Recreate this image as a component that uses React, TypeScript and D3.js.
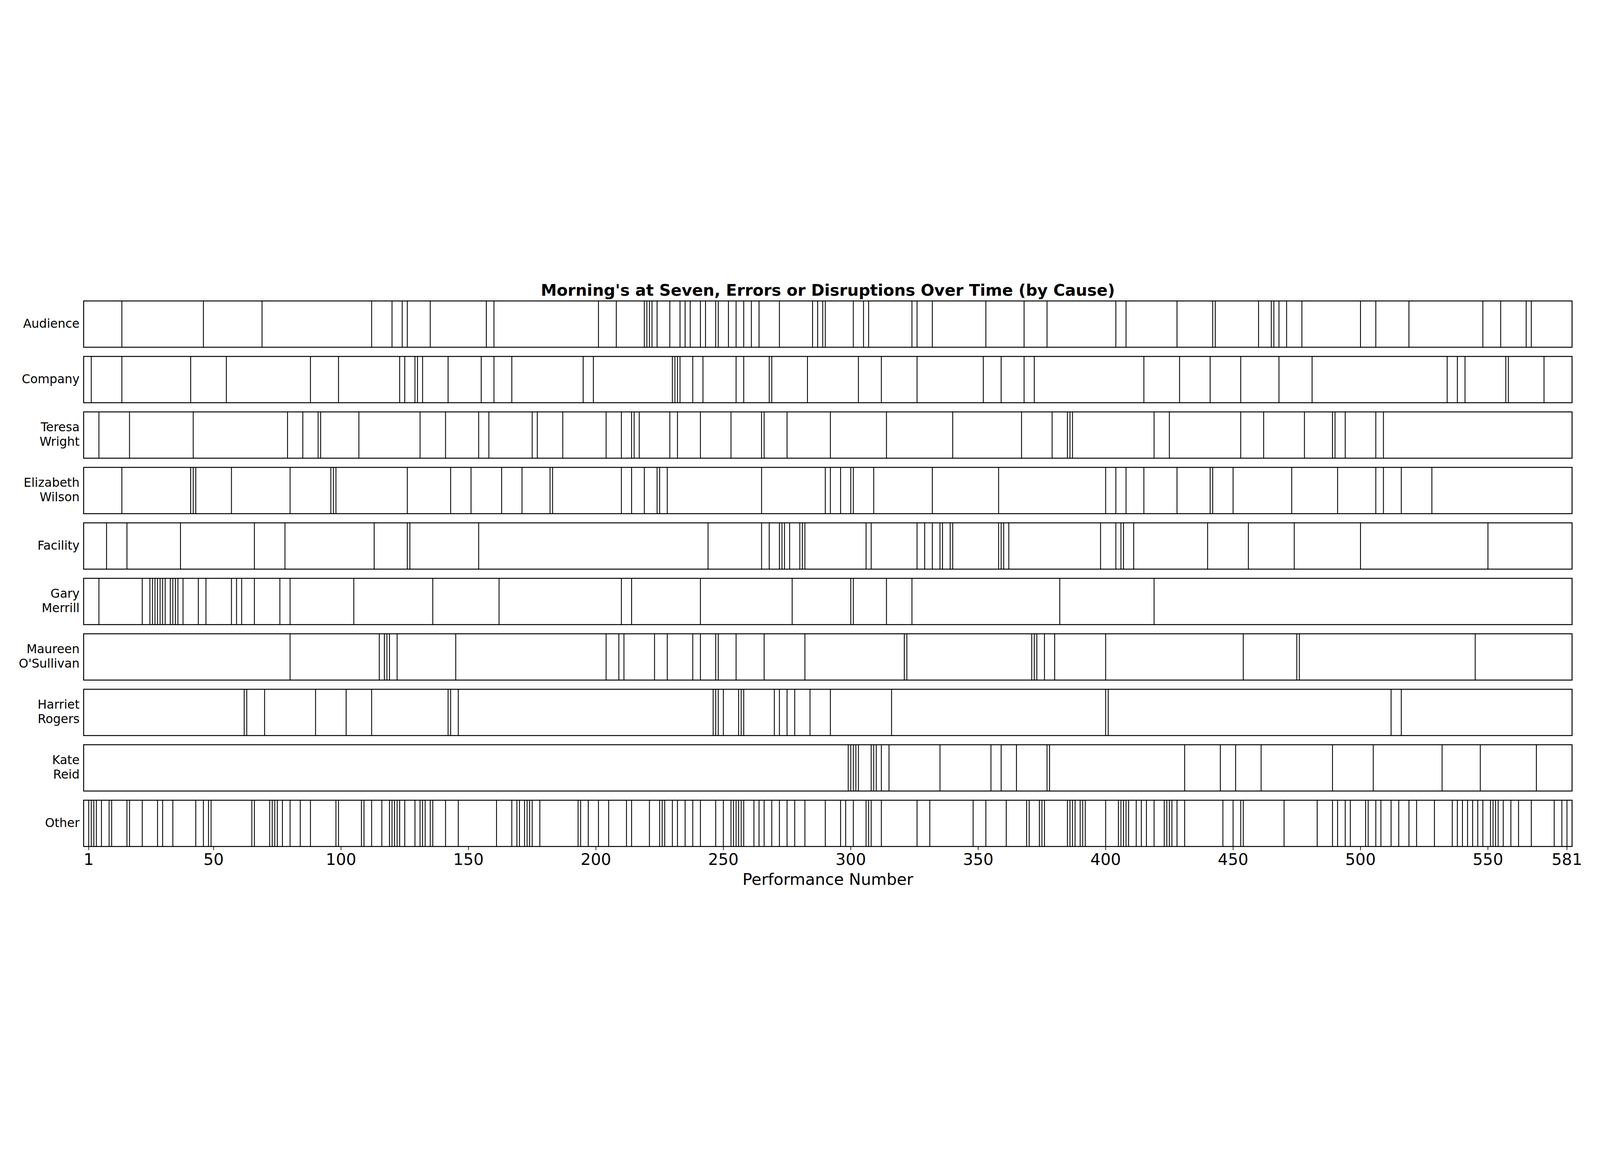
import * as d3 from "d3";

// Rows, top to bottom
const causes = [
  "Audience",
  "Company",
  "Teresa\nWright",
  "Elizabeth\nWilson",
  "Facility",
  "Gary\nMerrill",
  "Maureen\nO'Sullivan",
  "Harriet\nRogers",
  "Kate\nReid",
  "Other",
];

// Performance numbers with an error or disruption, per cause
const audience = [
  14, 46, 69, 112, 120, 124, 126, 135, 157, 160, 201, 208, 219, 220, 221, 222,
  224, 229, 233, 235, 237, 241, 243, 247, 248, 252, 255, 258, 261, 264, 272,
  285, 287, 289, 290, 301, 305, 307, 324, 326, 332, 353, 368, 377, 404, 408,
  428, 442, 443, 460, 465, 466, 468, 471, 477, 500, 506, 519, 548, 555, 565,
  567,
];
const company = [
  2, 14, 41, 55, 88, 99, 123, 125, 129, 130, 132, 142, 155, 160, 167, 195, 199,
  230, 231, 232, 233, 238, 242, 255, 258, 268, 269, 283, 303, 312, 326, 352,
  359, 368, 372, 415, 429, 441, 453, 468, 481, 534, 538, 541, 557, 558, 572,
];
const teresaWright = [
  5, 17, 42, 79, 85, 91, 92, 107, 131, 141, 154, 158, 175, 177, 187, 204, 210,
  214, 215, 217, 229, 232, 241, 253, 265, 266, 275, 292, 314, 340, 367, 379,
  385, 386, 387, 419, 425, 453, 462, 478, 489, 490, 494, 506, 509,
];
const elizabethWilson = [
  14, 41, 42, 43, 57, 80, 96, 97, 98, 126, 143, 151, 163, 171, 182, 183, 210,
  214, 219, 224, 225, 228, 265, 290, 292, 296, 300, 301, 309, 332, 358, 400,
  404, 408, 415, 428, 441, 442, 450, 473, 491, 506, 509, 516, 528,
];
const facility = [
  8, 16, 37, 66, 78, 113, 126, 127, 154, 244, 265, 268, 272, 273, 274, 276, 280,
  281, 282, 306, 308, 326, 329, 332, 335, 336, 339, 340, 358, 359, 360, 362,
  398, 404, 406, 407, 411, 440, 456, 474, 500, 550,
];
const garyMerrill = [
  5, 22, 25, 26, 27, 28, 29, 30, 31, 33, 34, 35, 36, 38, 44, 47, 57, 59, 61, 66,
  76, 80, 105, 136, 162, 210, 214, 241, 277, 300, 301, 314, 324, 382, 419,
];
const maureenOSullivan = [
  80, 115, 117, 118, 119, 122, 145, 204, 209, 211, 223, 228, 238, 241, 247, 248,
  255, 266, 282, 321, 322, 371, 372, 373, 376, 380, 400, 454, 475, 476, 545,
];
const harrietRogers = [
  62, 63, 70, 90, 102, 112, 142, 143, 146, 246, 247, 248, 250, 256, 257, 258,
  270, 272, 275, 278, 284, 292, 316, 400, 401, 512, 516,
];
const kateReid = [
  299, 300, 301, 302, 303, 308, 309, 310, 312, 315, 335, 355, 359, 365, 377,
  378, 431, 445, 451, 461, 489, 505, 532, 547, 569,
];
const other = [
  1, 2, 3, 4, 6, 9, 10, 16, 17, 22, 28, 30, 34, 43, 46, 48, 49, 65, 66, 72, 73,
  74, 75, 77, 80, 84, 88, 98, 99, 108, 109, 112, 116, 119, 120, 121, 122, 123,
  125, 129, 131, 132, 133, 135, 136, 141, 146, 161, 167, 169, 170, 172, 173,
  174, 175, 178, 193, 194, 197, 201, 205, 212, 214, 221, 225, 226, 227, 230,
  232, 235, 238, 241, 247, 250, 253, 254, 255, 256, 257, 258, 262, 264, 266,
  269, 272, 275, 278, 282, 290, 296, 298, 301, 306, 307, 308, 312, 326, 331,
  348, 353, 361, 369, 370, 374, 375, 376, 385, 386, 387, 388, 390, 391, 392,
  400, 405, 406, 407, 408, 409, 412, 414, 416, 419, 423, 424, 425, 426, 428,
  431, 446, 450, 453, 454, 470, 483, 489, 491, 494, 496, 502, 503, 506, 508,
  512, 515, 519, 522, 529, 536, 538, 540, 542, 544, 546, 548, 551, 552, 553,
  554, 556, 559, 562, 567, 576, 579, 581,
];

const eventsByCause = [
  audience,
  company,
  teresaWright,
  elizabethWilson,
  facility,
  garyMerrill,
  maureenOSullivan,
  harrietRogers,
  kateReid,
  other,
];

const xTicks = [1, 50, 100, 150, 200, 250, 300, 350, 400, 450, 500, 550, 581];
const xDomain = [-1, 583];

const title = "Morning's at Seven, Errors or Disruptions Over Time (by Cause)";
const xLabel = "Performance Number";

export default function App() {
  // Coordinate space layout definitions (drawn in a 7500x3000 viewBox,
  // fitted to whatever the viewport really is)
  const svgWidth = 7500;
  const svgHeight = 3000;
  const plot = { left: 392, right: 7369, top: 164, bottom: 2721 };
  const font = "'DejaVu Sans', sans-serif";

  // Scales
  const xScale = d3
    .scaleLinear()
    .domain(xDomain)
    .range([plot.left, plot.right]);

  const yScale = d3
    .scaleBand<string>()
    .domain(causes)
    .range([plot.top, plot.bottom])
    .paddingInner(43 / 260)
    .paddingOuter(0);

  const bw = yScale.bandwidth();
  const lastTop = yScale(causes[causes.length - 1]) || 0;

  return (
    <svg
      viewBox={`0 0 ${svgWidth} ${svgHeight}`}
      preserveAspectRatio="xMidYMid meet"
      style={{
        position: "fixed",
        left: 0,
        top: 0,
        width: "100vw",
        height: "100vh",
        display: "block",
        background: "#fff",
      }}
      fontFamily={font}
    >
      <rect x={0} y={0} width={svgWidth} height={svgHeight} fill="#fff" />

      <text
        x={(plot.left + plot.right) / 2}
        y={139}
        textAnchor="middle"
        fontSize={75}
        fontWeight="bold"
        fill="#000"
      >
        {title}
      </text>

      {causes.map((cause, i) => {
        const top = yScale(cause) || 0;
        const mid = top + bw / 2;
        const lines = cause.split("\n");
        const lineGap = 68;
        const firstBase = mid + 17 - ((lines.length - 1) * lineGap) / 2;
        return (
          <g key={cause}>
            {/* event markers */}
            {eventsByCause[i].map((p, j) => (
              <line
                key={j}
                x1={xScale(p)}
                x2={xScale(p)}
                y1={top}
                y2={top + bw}
                stroke="#000"
                strokeWidth={4}
              />
            ))}
            {/* panel frame */}
            <rect
              x={plot.left}
              y={top}
              width={plot.right - plot.left}
              height={bw}
              fill="none"
              stroke="#000"
              strokeWidth={4.5}
            />
            {/* row label */}
            <text textAnchor="end" fontSize={57} fill="#000">
              {lines.map((ln, k) => (
                <tspan key={k} x={373} y={firstBase + k * lineGap}>
                  {ln}
                </tspan>
              ))}
            </text>
          </g>
        );
      })}

      {/* x axis ticks on the bottom panel */}
      {xTicks.map((t) => (
        <g key={t}>
          <line
            x1={xScale(t)}
            x2={xScale(t)}
            y1={lastTop + bw}
            y2={lastTop + bw + 17}
            stroke="#000"
            strokeWidth={3}
          />
          <text
            x={xScale(t)}
            y={2807}
            textAnchor="middle"
            fontSize={75}
            fill="#000"
          >
            {t}
          </text>
        </g>
      ))}

      <text
        x={(plot.left + plot.right) / 2}
        y={2900}
        textAnchor="middle"
        fontSize={75}
        fill="#000"
      >
        {xLabel}
      </text>
    </svg>
  );
}
